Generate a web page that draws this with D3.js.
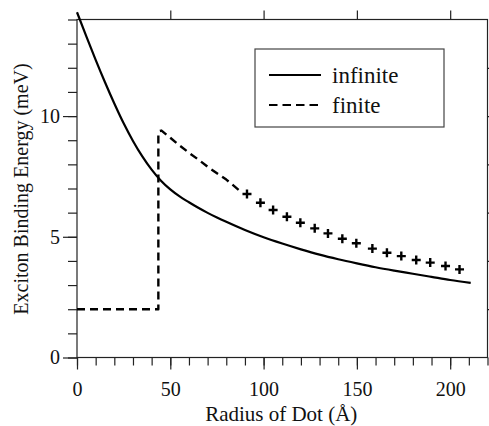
<!DOCTYPE html>
<html>
<head>
<meta charset="utf-8">
<script src="https://cdn.jsdelivr.net/npm/d3@7"></script>
<style>
  body { margin: 0; background: #fff; }
  svg { display: block; font-family: "Liberation Serif", "Times New Roman", serif; }
</style>
</head>
<body>
<div class="container"></div>
<script>
// infinite barrier (solid curve)
const infR = [0, 5, 10, 15, 20, 25, 30, 35, 40, 45, 50, 55, 60, 65, 70, 75, 80, 90, 100, 110, 120, 130, 140, 150, 160, 170, 180, 190, 200, 211];
const infE = [14.3, 13.3, 12.33, 11.4, 10.52, 9.7, 8.97, 8.33, 7.78, 7.32, 6.96, 6.67, 6.43, 6.2, 5.99, 5.8, 5.62, 5.28, 4.98, 4.72, 4.48, 4.26, 4.07, 3.9, 3.74, 3.6, 3.47, 3.34, 3.21, 3.09];

// finite barrier, dashed part
const finR = [0, 43.6, 43.6, 44.3, 45.3, 50, 55, 60, 65, 70, 75, 80, 87];
const finE = [2.0, 2.0, 9.25, 9.38, 9.4, 9.1, 8.78, 8.48, 8.2, 7.9, 7.63, 7.37, 6.92];

// finite barrier, plus markers
const plusR = [91.1, 98.3, 105.1, 112.5, 119.7, 127.4, 134.5, 142.2, 149.7, 158.3, 166.1, 173.8, 181.8, 189.3, 197.5, 205.0];
const plusE = [6.77, 6.41, 6.11, 5.83, 5.58, 5.35, 5.14, 4.92, 4.73, 4.51, 4.34, 4.20, 4.04, 3.93, 3.79, 3.65];

const xTicks = [0, 50, 100, 150, 200];
const yTicks = [0, 5, 10];
const legendLabels = ["infinite", "finite"];

const w = 489, h = 426;
const padLeft = 77, padRight = 487.5, padTop = 19.5, padBottom = 357.5;

const x = d3.scaleLinear().domain([0, 220]).range([padLeft, padRight]);
const y = d3.scaleLinear().domain([0, 14]).range([padBottom, padTop]);

const svg = d3.select(".container").append("svg")
    .attr("width", w).attr("height", h);

const axisColor = "#222";

/* bottom axis: minor ticks then major ticks with labels */
svg.append("g")
   .attr("transform", "translate(0," + padBottom + ")")
   .call(d3.axisBottom(x).tickValues(d3.range(0, 221, 10)).tickSize(8).tickFormat(""))
   .call(g => g.select(".domain").remove());
const xAxis = svg.append("g")
   .attr("transform", "translate(0," + padBottom + ")")
   .call(d3.axisBottom(x).tickValues(xTicks).tickSize(12).tickPadding(12).tickFormat(d3.format("d")))
   .call(g => g.select(".domain").remove());
xAxis.selectAll("text").attr("font-size", 20).attr("fill", "#111")
   .attr("font-family", "Liberation Serif");

/* top axis: major ticks only */
svg.append("g")
   .attr("transform", "translate(0," + padTop + ")")
   .call(d3.axisTop(x).tickValues([50, 100, 150, 200]).tickSize(9).tickFormat(""))
   .call(g => g.select(".domain").remove());

/* left axis */
svg.append("g")
   .attr("transform", "translate(" + padLeft + ",0)")
   .call(d3.axisLeft(y).tickValues(d3.range(0, 15, 1)).tickSize(9).tickFormat(""))
   .call(g => g.select(".domain").remove());
const yAxis = svg.append("g")
   .attr("transform", "translate(" + padLeft + ",0)")
   .call(d3.axisLeft(y).tickValues(yTicks).tickSize(14).tickPadding(3).tickFormat(d3.format("d")))
   .call(g => g.select(".domain").remove());
yAxis.selectAll("text").attr("font-size", 20).attr("fill", "#111")
   .attr("font-family", "Liberation Serif");

/* right axis, ticks mostly cut off by the edge */
svg.append("g")
   .attr("transform", "translate(" + padRight + ",0)")
   .call(d3.axisRight(y).tickValues(d3.range(2, 14, 2)).tickSize(6).tickFormat(""))
   .call(g => g.select(".domain").remove());

svg.selectAll(".tick line").attr("stroke", axisColor).attr("stroke-width", 1.2);

/* frame */
svg.append("rect")
   .attr("x", padLeft).attr("y", padTop)
   .attr("width", padRight - padLeft).attr("height", padBottom - padTop)
   .attr("fill", "none").attr("stroke", axisColor).attr("stroke-width", 1.2);

/* curves */
const infData = infR.map((r, i) => [r, infE[i]]);
const finData = finR.map((r, i) => [r, finE[i]]);
const plusData = plusR.map((r, i) => [r, plusE[i]]);

svg.append("path")
   .datum(infData)
   .attr("d", d3.line().x(d => x(d[0])).y(d => y(d[1])).curve(d3.curveMonotoneX))
   .attr("fill", "none").attr("stroke", "#000").attr("stroke-width", 2.2);

svg.append("path")
   .datum(finData)
   .attr("d", d3.line().x(d => x(d[0])).y(d => y(d[1])))
   .attr("fill", "none").attr("stroke", "#000").attr("stroke-width", 2.4)
   .attr("stroke-dasharray", "8,5").attr("stroke-linejoin", "round");

svg.selectAll(".plus")
   .data(plusData)
   .enter()
   .append("path")
   .attr("class", "plus")
   .attr("transform", d => "translate(" + x(d[0]) + "," + y(d[1]) + ")")
   .attr("d", "M-4.5,0H4.5M0,-4.5V4.5")
   .attr("stroke", "#000").attr("stroke-width", 2.4);

/* legend */
const lg = svg.append("g");
lg.append("rect")
  .attr("x", 255).attr("y", 49).attr("width", 189).attr("height", 78)
  .attr("fill", "#fff").attr("stroke", "#444").attr("stroke-width", 1.2);
legendLabels.forEach((lab, i) => {
  const ly = 75 + i * 30;
  lg.append("line")
    .attr("x1", 269).attr("x2", 321).attr("y1", ly).attr("y2", ly)
    .attr("stroke", "#000").attr("stroke-width", 2.2)
    .attr("stroke-dasharray", i === 1 ? "8.5,5" : null);
  lg.append("text")
    .attr("x", 332).attr("y", ly + 7.5)
    .attr("font-size", 23).attr("fill", "#111")
    .text(lab);
});

/* axis titles */
svg.append("text")
   .attr("x", (padLeft + padRight) / 2 - 1).attr("y", 421)
   .attr("text-anchor", "middle").attr("font-size", 21).attr("fill", "#111")
   .text("Radius of Dot (Å)");

svg.append("text")
   .attr("transform", "translate(28,189) rotate(-90)")
   .attr("text-anchor", "middle").attr("font-size", 20).attr("fill", "#111")
   .text("Exciton Binding Energy (meV)");
</script>
</body>
</html>
